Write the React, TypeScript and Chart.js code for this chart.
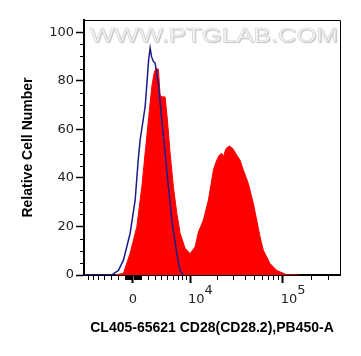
import React, { useEffect, useRef } from 'react';
import { Chart, registerables } from 'chart.js';

Chart.register(...registerables);

// x positions are in biexponential display units (≈ log10 of fluorescence for large values)
const redX = [3.2425, 3.3295, 3.3998, 3.47, 3.5225, 3.5571, 3.5917, 3.6273, 3.6514, 3.6724, 3.6965, 3.7143, 3.7321, 3.7667, 3.7909, 3.8192, 3.8538, 3.8894, 3.924, 3.9764, 4.0289, 4.0813, 4.1159, 4.1683, 4.2207, 4.2564, 4.2731, 4.291, 4.3088, 4.3361, 4.3612, 4.378, 4.4063, 4.4409, 4.4765, 4.5185, 4.5531, 4.5877, 4.6401, 4.6925, 4.7282, 4.7628, 4.7974, 4.8676, 4.9378, 5.0427, 5.1822];
const redY = [0, 0.7, 9.0, 19.9, 36.3, 50.2, 63.8, 77.6, 83.2, 85.1, 84.7, 74.1, 73.4, 73.3, 63.8, 50.2, 36.3, 25.5, 17.2, 11.0, 8.8, 11.6, 17.6, 22.6, 30.8, 39.1, 43.2, 45.3, 47.3, 49.4, 50.1, 48.7, 52.1, 53.1, 52.1, 49.4, 47.3, 43.2, 37.7, 29.5, 22.6, 15.7, 10.2, 4.7, 1.9, 0.1, 0];

const blueX = [2.9175, 3.2079, 3.2771, 3.3295, 3.3998, 3.4522, 3.4837, 3.5046, 3.5361, 3.5571, 3.5749, 3.5938, 3.6095, 3.6252, 3.6441, 3.6619, 3.6965, 3.7321, 3.7667, 3.8013, 3.837, 3.8894, 3.924, 3.9586];
const blueY = [0, 0.1, 1.9, 6.1, 17.2, 30.8, 47.0, 55.6, 63.8, 69.3, 78.3, 88.6, 93.4, 89.8, 87.9, 87.2, 78.5, 63.8, 50.1, 36.3, 22.6, 8.8, 1.9, 0];

const yMajorTicks = [0, 20, 40, 60, 80, 100];
const yMinorTicks = [5, 10, 15, 25, 30, 35, 45, 50, 55, 65, 70, 75, 85, 90, 95];
const xTickValues = [0, 10000, 100000];
const xTickBase = ['0', '10', '10'];
const xTickExp = ['', '4', '5'];
const xMinorValues = [
  -7000, -6000, -5000, -4000, -3000, -2000,
  -1000, -900, -800, -700, -600, -500, -400, -300, -200, -100, 100, 200, 300, 400, 500, 600, 700, 800, 900,
  1000, 2000, 3000, 4000, 5000, 6000, 7000, 8000, 9000,
  20000, 30000, 40000, 50000, 60000, 70000, 80000, 90000,
  200000, 300000,
];
const xRange = [-7900, 400000];
const yRange = [0, 105];

const xTitle = 'CL405-65621 CD28(CD28.2),PB450-A';
const yTitle = 'Relative Cell Number';
const watermark = 'WWW.PTGLAB.COM';

const W = 2680;
const biex = (v: number) => Math.log10(W) + Math.asinh(v / (2 * W)) / Math.LN10;

const flowPlugin = {
  id: 'flowDecor',
  beforeDatasetsDraw(chart: any) {
    const { ctx, chartArea } = chart;
    ctx.save();
    ctx.font = '21px "Liberation Sans", Arial, sans-serif';
    ctx.textBaseline = 'alphabetic';
    ctx.textAlign = 'left';
    const natural = ctx.measureText(watermark).width;
    const target = 248;
    ctx.translate(chartArea.left + 6, chartArea.top + 22);
    ctx.scale(target / natural, 1);
    ctx.shadowColor = 'rgba(160,160,160,0.7)';
    ctx.shadowOffsetX = 1;
    ctx.shadowOffsetY = 1;
    ctx.shadowBlur = 1;
    ctx.fillStyle = '#f5f5f5';
    ctx.fillText(watermark, 0, 0);
    ctx.shadowColor = 'transparent';
    ctx.strokeStyle = '#d4d4d4';
    ctx.lineWidth = 0.6;
    ctx.strokeText(watermark, 0, 0);
    ctx.restore();
  },
  afterDraw(chart: any) {
    const { ctx, chartArea, scales } = chart;
    const x = scales.x;
    const y = scales.y;
    ctx.save();
    ctx.strokeStyle = '#000';
    ctx.lineWidth = 1;
    ctx.beginPath();
    ctx.moveTo(chartArea.left, chartArea.top + 0.5);
    ctx.lineTo(chartArea.right + 0.5, chartArea.top + 0.5);
    ctx.lineTo(chartArea.right + 0.5, chartArea.bottom);
    ctx.stroke();

    ctx.beginPath();
    yMinorTicks.forEach((v) => {
      const py = Math.round(y.getPixelForValue(v)) + 0.5;
      ctx.moveTo(chartArea.left - 4, py);
      ctx.lineTo(chartArea.left, py);
    });
    xMinorValues.forEach((v) => {
      const px = Math.round(x.getPixelForValue(biex(v))) + 0.5;
      ctx.moveTo(px, chartArea.bottom);
      ctx.lineTo(px, chartArea.bottom + 5);
    });
    ctx.stroke();

    ctx.font = '13px "DejaVu Sans", sans-serif';
    ctx.fillStyle = '#222';
    ctx.textBaseline = 'alphabetic';
    xTickValues.forEach((v, i) => {
      const px = x.getPixelForValue(biex(v));
      const base = xTickBase[i];
      const exp = xTickExp[i];
      if (!exp) {
        ctx.textAlign = 'center';
        ctx.fillText(base, px, 303);
      } else {
        ctx.textAlign = 'left';
        const bx = px - 2;
        ctx.fillText(base, bx, 303);
        const w = ctx.measureText(base).width;
        ctx.fillText(exp, bx + w, 294);
      }
    });
    ctx.restore();
  },
};

export default function App() {
  const ref = useRef<HTMLCanvasElement>(null);
  useEffect(() => {
    if (!ref.current) return;
    const chart = new Chart(ref.current, {
      type: 'line',
      data: {
        datasets: [
          {
            label: 'Isotype',
            data: blueX.map((v, i) => ({ x: v, y: blueY[i] })),
            borderColor: '#1c1c8a',
            borderWidth: 1.5,
            pointRadius: 0,
            fill: false,
            tension: 0,
          },
          {
            label: 'CD28',
            data: redX.map((v, i) => ({ x: v, y: redY[i] })),
            borderColor: '#ff0000',
            backgroundColor: '#ff0000',
            borderWidth: 1,
            pointRadius: 0,
            fill: 'origin',
            tension: 0,
          },
        ],
      },
      options: {
        animation: false,
        responsive: false,
        devicePixelRatio: 1,
        layout: { padding: { top: 20, right: 21, left: 0, bottom: 0 } },
        plugins: { legend: { display: false }, tooltip: { enabled: false } },
        scales: {
          x: {
            type: 'linear',
            min: biex(xRange[0]),
            max: biex(xRange[1]),
            afterBuildTicks: (scale: any) => {
              scale.ticks = xTickValues.map((v) => ({ value: biex(v) }));
            },
            afterFit: (scale: any) => {
              scale.height = 81;
            },
            ticks: { display: false },
            grid: { drawOnChartArea: false, drawTicks: true, tickLength: 8, tickWidth: 2, tickColor: '#000' },
            border: { display: true, color: '#000', width: 2 },
            title: {
              display: true,
              text: xTitle,
              color: '#000',
              font: { family: '"Liberation Sans", Arial, sans-serif', size: 14, weight: 'bold' },
              padding: { top: 19, bottom: 19 },
            },
          },
          y: {
            type: 'linear',
            min: yRange[0],
            max: yRange[1],
            afterBuildTicks: (scale: any) => {
              scale.ticks = yMajorTicks.map((v) => ({ value: v }));
            },
            afterFit: (scale: any) => {
              scale.width = 84;
            },
            ticks: {
              color: '#222',
              padding: 2,
              font: { family: '"DejaVu Sans", sans-serif', size: 13 },
              callback: (v: any) => String(v),
            },
            grid: { drawOnChartArea: false, drawTicks: true, tickLength: 8, tickWidth: 1.5, tickColor: '#000' },
            border: { display: true, color: '#000', width: 2 },
            title: {
              display: true,
              text: yTitle,
              color: '#000',
              font: { family: '"Liberation Sans", Arial, sans-serif', size: 14, weight: 'bold' },
              padding: { top: 20, bottom: 20 },
            },
          },
        },
      },
      plugins: [flowPlugin],
    } as any);
    return () => chart.destroy();
  }, []);
  return (
    <div style={{ position: 'fixed', left: 0, top: 0, width: 361, height: 356, background: '#fff' }}>
      <canvas ref={ref} width={361} height={356} style={{ display: 'block', width: 361, height: 356 }} />
    </div>
  );
}
